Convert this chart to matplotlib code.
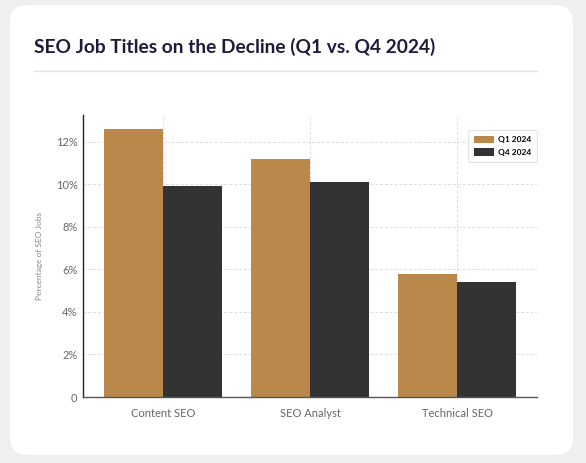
import matplotlib
matplotlib.use("Agg")
import matplotlib.pyplot as plt
import numpy as np
from matplotlib.patches import FancyBboxPatch
from matplotlib.ticker import FuncFormatter

categories = ["Content SEO", "SEO Analyst", "Technical SEO"]
q1_values = [12.6, 11.2, 5.8]
q4_values = [9.9, 10.1, 5.4]
series_names = ["Q1 2024", "Q4 2024"]
colors = ["#b9884a", "#333333"]

W, H = 586, 463
fig = plt.figure(figsize=(W / 100, H / 100), dpi=100)
fig.patch.set_facecolor("#efefef")

card = FancyBboxPatch((10 / W, 1 - 455 / H), 563 / W, 450 / H,
                      boxstyle="round,pad=0,rounding_size=0.03",
                      transform=fig.transFigure, facecolor="white",
                      edgecolor="none", mutation_aspect=W / H, zorder=-10)
fig.patches.append(card)

fig.text(34 / W, 1 - 47 / H, "SEO Job Titles on the Decline (Q1 vs. Q4 2024)",
         fontsize=13.8, fontweight="bold", color="#1e1b3a",
         family=["Lato", "DejaVu Sans"], va="center", ha="left")
fig.add_artist(plt.Line2D([34 / W, 537 / W], [1 - 71 / H, 1 - 71 / H],
                          transform=fig.transFigure, color="#e2e2e8", lw=1))

ax = fig.add_axes([83 / W, 1 - 397 / H, (537 - 83) / W, (397 - 115) / H])
ax.set_zorder(1)
ax.patch.set_alpha(0)
x = np.arange(len(categories))
w = 0.4
ax.bar(x - w / 2, q1_values, w, color=colors[0], label=series_names[0], zorder=2)
ax.bar(x + w / 2, q4_values, w, color=colors[1], label=series_names[1], zorder=2)

ax.set_xlim(-0.544, 2.544)
ax.set_ylim(0, 13.25)
ax.set_yticks([0, 2, 4, 6, 8, 10, 12])
ax.yaxis.set_major_formatter(FuncFormatter(lambda v, p: "0" if v == 0 else f"{int(v)}%"))
ax.set_xticks(x)
ax.set_xticklabels(categories)
ax.grid(True, color="#dddddd", linestyle=(0, (3, 2)), linewidth=0.7, zorder=0)
ax.set_axisbelow(True)
for s in ["top", "right"]:
    ax.spines[s].set_visible(False)
ax.spines["left"].set_color("#222222")
ax.spines["bottom"].set_color("#555555")
ax.spines["left"].set_linewidth(1)
ax.spines["bottom"].set_linewidth(1)
ax.tick_params(axis="y", length=0, labelsize=8, labelcolor="#666666", pad=4)
ax.tick_params(axis="x", length=0, labelsize=8, labelcolor="#666666", pad=8)
for lab in ax.get_xticklabels() + ax.get_yticklabels():
    lab.set_family(["Lato", "DejaVu Sans"])
ax.set_ylabel("Percentage of SEO Jobs", fontsize=6, color="#888888",
              family=["Lato", "DejaVu Sans"], labelpad=9)

leg = ax.legend(loc="upper right", bbox_to_anchor=(1.0, 0.947), borderaxespad=0,
                frameon=True, handlelength=2.4, handleheight=1.0,
                borderpad=0.7, labelspacing=0.6, handletextpad=0.5, fancybox=True,
                prop={"family": ["Lato", "DejaVu Sans"], "size": 6, "weight": "bold"})
leg.get_frame().set_edgecolor("#dddddd")
leg.get_frame().set_linewidth(0.8)

fig.savefig("out.png", dpi=100, facecolor=fig.get_facecolor())
